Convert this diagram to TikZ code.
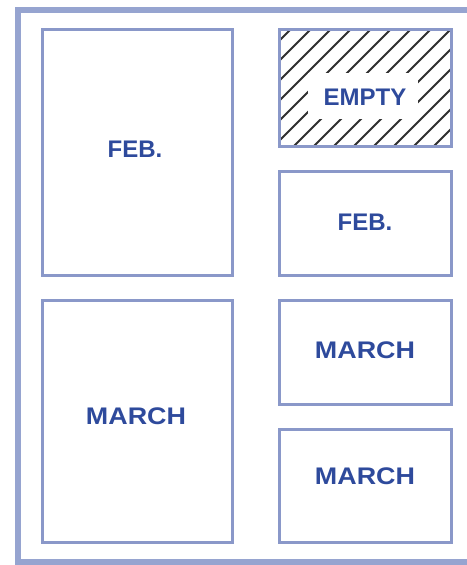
\documentclass[tikz,border=0pt]{standalone}
\usepackage{fontspec}
\setmainfont{Liberation Sans}
\definecolor{edge}{HTML}{8A98C9}
\definecolor{frame}{HTML}{96A4D0}
\definecolor{ink}{HTML}{2E4A9C}
\definecolor{hatch}{HTML}{303030}
\begin{document}
\begin{tikzpicture}[x=1pt,y=-1pt,
  boxline/.style={draw=edge,line width=3pt},
  lbl/.style={text=ink,font=\fontsize{24}{24}\selectfont\bfseries,inner sep=0pt,anchor=center},
  widelbl/.style={lbl,xscale=1.12}]
\useasboundingbox (0,0) rectangle (466,565);
\fill[white] (0,0) rectangle (466,565);
% outer frame
\draw[draw=frame,line width=6pt] (480,10) -- (18,10) -- (18,562) -- (480,562);
% hatched EMPTY box
\begin{scope}
\clip (279.5,29.5) rectangle (451.5,146.5);
\foreach \i in {-10,...,24} {
  \draw[hatch,line width=1.8pt] (260+\i*20,160) -- ++(150,-150);
}
\end{scope}
\fill[white] (308,73) rectangle (418,119);
% boxes
\draw[boxline] (42.5,29.5) rectangle (232.5,275.5);
\draw[boxline] (42.5,300.5) rectangle (232.5,542.5);
\draw[boxline] (279.5,29.5) rectangle (451.5,146.5);
\draw[boxline] (279.5,171.5) rectangle (451.5,275.5);
\draw[boxline] (279.5,300.5) rectangle (451.5,404.5);
\draw[boxline] (279.5,429.5) rectangle (451.5,542.5);
% labels
\node[lbl] (febbig) at (135,149) {FEB.};
\node[widelbl] (marchbig) at (136,416) {MARCH};
\node[lbl] (empty) at (365,97) {EMPTY};
\node[lbl] (febsmall) at (365,222) {FEB.};
\node[widelbl] (marchone) at (365,350) {MARCH};
\node[widelbl] (marchtwo) at (365,476) {MARCH};
\end{tikzpicture}
\end{document}
